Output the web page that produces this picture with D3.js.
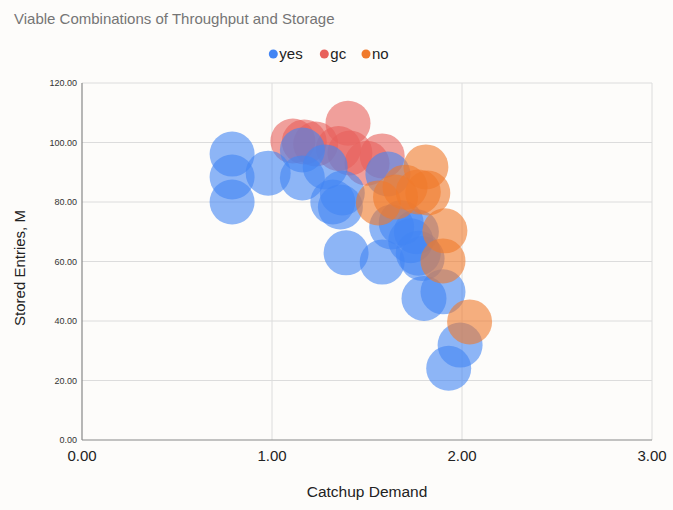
<!DOCTYPE html>
<html><head><meta charset="utf-8">
<script src="https://cdn.jsdelivr.net/npm/d3@7"></script>
<style>html,body{margin:0;padding:0;background:#fdfcfa;}svg{display:block;font-family:"Liberation Sans",Arial,sans-serif;}</style>
</head><body>
<svg id="c" width="673" height="510"></svg>
<script>
const seriesNames = ["yes", "gc", "no"];
const seriesColors = ["#4285f4", "#e8605b", "#f07a2c"];
const xTicks = [0, 1, 2, 3];
const yTicks = [0, 20, 40, 60, 80, 100, 120];

// gc (drawn first)
const gcX = [1.40, 1.11, 1.17, 1.23, 1.41, 1.58, 1.35, 1.50];
const gcY = [106.5, 100.5, 100.2, 99.5, 96.5, 95.5, 98.0, 93.0];
// yes
const yesX = [0.79, 0.79, 0.79, 0.98, 1.16, 1.16, 1.28, 1.32, 1.36, 1.39, 1.58, 1.61, 1.63, 1.76, 1.79, 1.80, 1.90, 1.99, 1.93, 1.73, 1.77, 1.37, 1.68];
const yesY = [96.1, 88.4, 80.0, 89.7, 97.5, 88.1, 91.8, 80.0, 78.3, 62.9, 59.8, 89.4, 71.6, 70.0, 61.0, 47.6, 49.8, 31.9, 24.1, 67.0, 62.8, 83.0, 73.0];
// no
const noX = [1.81, 1.77, 1.82, 1.70, 1.56, 1.91, 1.90, 2.04, 1.65];
const noY = [91.8, 83.4, 83.0, 85.0, 79.7, 70.3, 60.2, 39.7, 81.7];

const svg = d3.select("#c");
const L = 82, R = 652, T = 83, B = 440;
const x = d3.scaleLinear().domain([0, 3]).range([L, R]);
const y = d3.scaleLinear().domain([0, 120]).range([B, T]);
const r = 22.5;

svg.append("rect").attr("width", 673).attr("height", 510).attr("fill", "#fdfcfa");

// title
svg.append("text").attr("x", 14).attr("y", 24).attr("fill", "#757575")
  .style("font-size", "15px").text("Viable Combinations of Throughput and Storage");

// gridlines
svg.append("g").selectAll("line").data(yTicks.slice(1)).join("line")
  .attr("x1", L).attr("x2", R).attr("y1", d => y(d)).attr("y2", d => y(d))
  .attr("stroke", "#dcdcdc").attr("stroke-width", 1);
svg.append("g").selectAll("line").data(xTicks.slice(1)).join("line")
  .attr("x1", d => x(d)).attr("x2", d => x(d)).attr("y1", T).attr("y2", B)
  .attr("stroke", "#dcdcdc").attr("stroke-width", 1);

// bubbles
const groups = [
  {name: "gc", xs: gcX, ys: gcY, c: seriesColors[1]},
  {name: "yes", xs: yesX, ys: yesY, c: seriesColors[0]},
  {name: "no", xs: noX, ys: noY, c: seriesColors[2]},
];
groups.forEach(g => {
  const pts = g.xs.map((v, i) => ({x: v, y: g.ys[i]}));
  svg.append("g").selectAll("circle").data(pts).join("circle")
    .attr("cx", d => x(d.x)).attr("cy", d => y(d.y)).attr("r", r)
    .attr("fill", g.c).attr("fill-opacity", 0.6);
});

// axes
svg.append("line").attr("x1", L).attr("x2", L).attr("y1", T).attr("y2", B).attr("stroke", "#888").attr("stroke-width", 1.2);
svg.append("line").attr("x1", L).attr("x2", R).attr("y1", B).attr("y2", B).attr("stroke", "#888").attr("stroke-width", 1.2);

// y tick labels
svg.append("g").selectAll("text").data(yTicks).join("text")
  .attr("x", 77).attr("y", d => y(d) + 3).attr("text-anchor", "end")
  .attr("fill", "#333").style("font-size", "9px").text(d => d3.format(".2f")(d));
// x tick labels
svg.append("g").selectAll("text").data(xTicks).join("text")
  .attr("x", d => x(d)).attr("y", 461).attr("text-anchor", "middle")
  .attr("fill", "#222").style("font-size", "15px").text(d => d3.format(".2f")(d));

// axis titles
svg.append("text").attr("x", 367).attr("y", 497).attr("text-anchor", "middle")
  .attr("fill", "#222").style("font-size", "15.5px").text("Catchup Demand");
svg.append("text").attr("transform", "translate(25,268) rotate(-90)").attr("text-anchor", "middle")
  .attr("fill", "#222").style("font-size", "15px").text("Stored Entries, M");

// legend
const legX = [273.3, 324.3, 366];
const leg = svg.append("g");
seriesNames.forEach((n, i) => {
  leg.append("circle").attr("cx", legX[i]).attr("cy", 54).attr("r", 4.5).attr("fill", seriesColors[i]);
  leg.append("text").attr("x", legX[i] + 6).attr("y", 59).attr("fill", "#222")
    .style("font-size", "15px").text(n);
});
</script>
</body></html>
